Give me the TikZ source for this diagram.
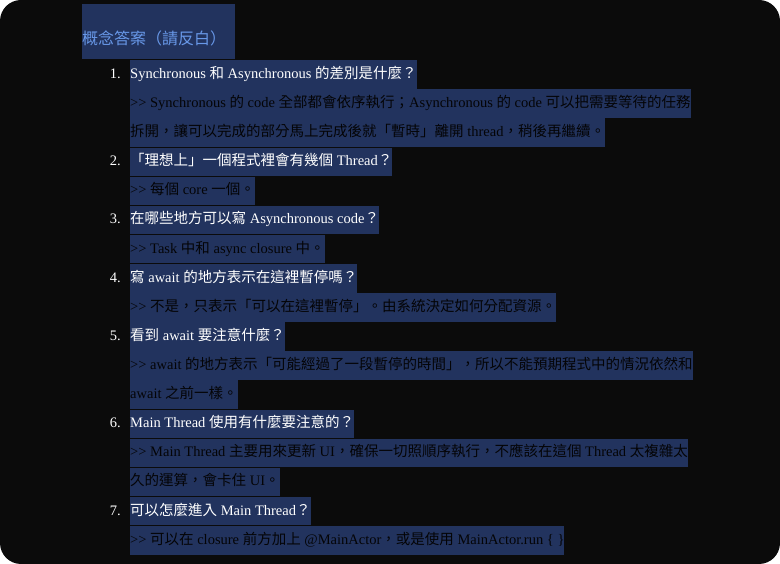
\documentclass[tikz,border=0pt]{standalone}
\usepackage{fontspec}
\setmainfont{Liberation Serif}[Ligatures=TeXOff]
\newfontfamily\cjk{Noto Sans CJK TC}
\usepackage{tikz}
\usetikzlibrary{positioning}

\definecolor{page}{RGB}{11, 11, 11}
\definecolor{hl}{RGB}{34, 51, 94}
\definecolor{titleblue}{RGB}{104, 152, 232}
\definecolor{anstext}{RGB}{4, 4, 6}

% switch to the CJK family for Han characters and full-width punctuation
\XeTeXinterchartokenstate=1
\newXeTeXintercharclass\cjkcls
\count255="3000
\loop \XeTeXcharclass\count255=\cjkcls \ifnum\count255<"303F \advance\count255 1 \repeat
\count255="4E00
\loop \XeTeXcharclass\count255=\cjkcls \ifnum\count255<"9FFF \advance\count255 1 \repeat
\count255="FF00
\loop \XeTeXcharclass\count255=\cjkcls \ifnum\count255<"FFEF \advance\count255 1 \repeat
\XeTeXinterchartoks 0 \cjkcls = {\begingroup\cjk}
\XeTeXinterchartoks 4095 \cjkcls = {\begingroup\cjk}
\XeTeXinterchartoks \cjkcls 0 = {\endgroup}
\XeTeXinterchartoks \cjkcls 4095 = {\endgroup}

\begin{document}
\begin{tikzpicture}[x=1pt, y=-1pt,
        every node/.style={font=\fontsize{14.5}{17}\selectfont},
        titlebox/.style={fill=hl, text=titleblue, anchor=north west, inner sep=0pt,
            font=\fontsize{16}{19}\selectfont,
            text width=153pt, align=left, text height=40pt, text depth=15pt},
        qrow/.style={fill=hl, text=white, anchor=base west, inner xsep=0pt, inner ysep=0pt,
            text height=18.2pt, text depth=10.4pt},
        arow/.style={qrow, text=anstext},
        num/.style={text=white, anchor=base east, inner sep=0pt}
    ]
    % Page
    \useasboundingbox (0,0) rectangle (780,564);
    \fill[white] (0,0) rectangle (780,564);
    \fill[page, rounded corners=21pt] (0,0) rectangle (780,564);

    % Title
    \node[titlebox] (title) at (82,4) {概念答案（請反白）};

    % Question 1
    \node[num] (n1) at (121,78.5) {1.};
    \node[qrow] (q1) at (130,78.5) {Synchronous 和 Asynchronous 的差別是什麼？};
    \node[arow] (a1) at (130,107.6) {>\kern0pt> Synchronous 的 code 全部都會依序執行；Asynchronous 的 code 可以把需要等待的任務};
    \node[arow] (a1b) at (130,136.7) {拆開，讓可以完成的部分馬上完成後就「暫時」離開 thread，稍後再繼續。};

    % Question 2
    \node[num] (n2) at (121,165.8) {2.};
    \node[qrow] (q2) at (130,165.8) {「理想上」一個程式裡會有幾個 Thread？};
    \node[arow] (a2) at (130,194.9) {>\kern0pt> 每個 core 一個。};

    % Question 3
    \node[num] (n3) at (121,224.0) {3.};
    \node[qrow] (q3) at (130,224.0) {在哪些地方可以寫 Asynchronous code？};
    \node[arow] (a3) at (130,253.1) {>\kern0pt> Task 中和 async closure 中。};

    % Question 4
    \node[num] (n4) at (121,282.2) {4.};
    \node[qrow] (q4) at (130,282.2) {寫 await 的地方表示在這裡暫停嗎？};
    \node[arow] (a4) at (130,311.3) {>\kern0pt> 不是，只表示「可以在這裡暫停」。由系統決定如何分配資源。};

    % Question 5
    \node[num] (n5) at (121,340.4) {5.};
    \node[qrow] (q5) at (130,340.4) {看到 await 要注意什麼？};
    \node[arow] (a5) at (130,369.5) {>\kern0pt> await 的地方表示「可能經過了一段暫停的時間」，所以不能預期程式中的情況依然和};
    \node[arow] (a5b) at (130,398.6) {await 之前一樣。};

    % Question 6
    \node[num] (n6) at (121,427.7) {6.};
    \node[qrow] (q6) at (130,427.7) {Main Thread 使用有什麼要注意的？};
    \node[arow] (a6) at (130,456.8) {>\kern0pt> Main Thread 主要用來更新 UI，確保一切照順序執行，不應該在這個 Thread 太複雜太};
    \node[arow] (a6b) at (130,485.9) {久的運算，會卡住 UI。};

    % Question 7
    \node[num] (n7) at (121,515.0) {7.};
    \node[qrow] (q7) at (130,515.0) {可以怎麼進入 Main Thread？};
    \node[arow] (a7) at (130,544.1) {>\kern0pt> 可以在 closure 前方加上 @MainActor，或是使用 MainActor.run \{ \}};
\end{tikzpicture}
\end{document}
